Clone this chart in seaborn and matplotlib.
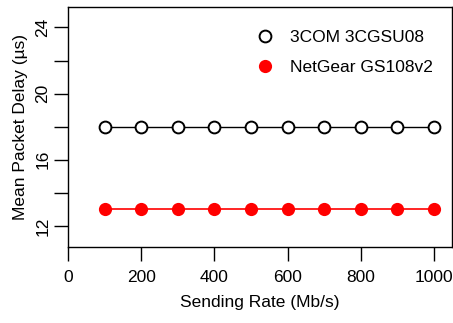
import matplotlib
matplotlib.use("Agg")
import matplotlib.pyplot as plt
import seaborn as sns
import pandas as pd
from matplotlib.lines import Line2D

rates = [100, 200, 300, 400, 500, 600, 700, 800, 900, 1000]
delay_3com = [18, 18, 18, 18, 18, 18, 18, 18, 18, 18]
delay_netgear = [13, 13, 13, 13, 13, 13, 13, 13, 13, 13]
labels = ["3COM 3CGSU08", "NetGear GS108v2"]
x_ticks = [0, 200, 400, 600, 800, 1000]
y_ticks = [12, 14, 16, 18, 20, 22, 24]
y_ticklabels = ["12", "", "16", "", "20", "", "24"]

sns.set_style("white")
plt.rcParams['font.family'] = ['Liberation Sans', 'DejaVu Sans']
plt.rcParams['text.color'] = 'black'
plt.rcParams['axes.labelcolor'] = 'black'

df = pd.DataFrame({
    "rate": rates * 2,
    "delay": delay_3com + delay_netgear,
    "device": [labels[0]] * len(rates) + [labels[1]] * len(rates),
})

fig = plt.figure(figsize=(4.53, 3.23), dpi=100)
ax = fig.add_axes([0.1508, 0.2362, 0.9978 - 0.1508, 0.9774 - 0.2362])

d1 = df[df.device == labels[0]]
d2 = df[df.device == labels[1]]
sns.lineplot(data=d1, x="rate", y="delay", ax=ax, color="black", lw=1.0,
             marker="o", markersize=8.5, markerfacecolor="white",
             markeredgecolor="black", markeredgewidth=1.4, legend=False)
sns.lineplot(data=d2, x="rate", y="delay", ax=ax, color="#ff0000", lw=1.2,
             marker="o", markersize=9.5, markerfacecolor="#ff0000",
             markeredgecolor="#ff0000", markeredgewidth=0, legend=False)

ax.set_xlim(0, 1050)
ax.set_ylim(10.74, 25.22)
ax.set_xticks(x_ticks)
ax.set_xticklabels([str(t) for t in x_ticks])
ax.set_yticks(y_ticks)
ax.set_yticklabels(y_ticklabels, rotation=90, va="center")

for s in ax.spines.values():
    s.set_visible(True)
    s.set_color("black")
    s.set_linewidth(1.0)

ax.tick_params(axis="both", direction="out", length=10, width=1.0,
               colors="black", labelsize=12.5,
               bottom=True, left=True)
ax.tick_params(axis="x", pad=7)
ax.tick_params(axis="y", pad=3)

ax.set_xlabel("Sending Rate (Mb/s)", fontsize=12.5, labelpad=7, color="black")
ax.set_ylabel("Mean Packet Delay (µs)", fontsize=12.5, labelpad=5, color="black")

handles = [
    Line2D([], [], ls="none", marker="o", markersize=8.5, markerfacecolor="white",
           markeredgecolor="black", markeredgewidth=1.4),
    Line2D([], [], ls="none", marker="o", markersize=9.5, markerfacecolor="#ff0000",
           markeredgecolor="#ff0000", markeredgewidth=0),
]
ax.legend(handles, labels, loc="upper right", frameon=False, fontsize=12.5,
          bbox_to_anchor=(0.99, 0.972), handlelength=1.0, handletextpad=0.9,
          labelspacing=0.85)

fig.savefig("out.png", dpi=100)
